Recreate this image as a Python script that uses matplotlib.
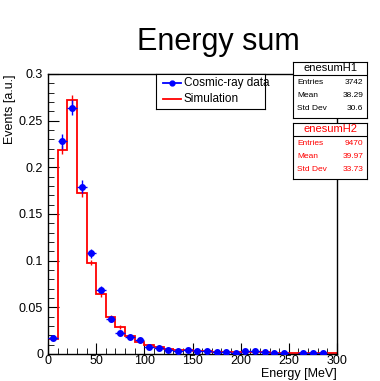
import numpy as np
import matplotlib
matplotlib.use("Agg")
import matplotlib.pyplot as plt
from matplotlib.ticker import MultipleLocator

plt.rcParams["font.family"] = ["Liberation Sans", "DejaVu Sans"]

# bins de 10 MeV, 0..300
edges = np.arange(0, 310, 10)
data = [0.017, 0.228, 0.264, 0.179, 0.108, 0.069, 0.037, 0.022, 0.018, 0.015,
        0.008, 0.006, 0.004, 0.003, 0.004, 0.003, 0.003, 0.002, 0.002, 0.001,
        0.003, 0.003, 0.002, 0.001, 0.001, np.nan, 0.001, 0.001, 0.001, np.nan]
data_err = [0.002, 0.008, 0.008, 0.007, 0.005, 0.004, 0.003, 0.002, 0.002, 0.002,
            0.0015, 0.0013, 0.001, 0.001, 0.001, 0.001, 0.001, 0.0007, 0.0007, 0.0005,
            0.001, 0.001, 0.0007, 0.0005, 0.0005, 0.0, 0.0005, 0.0005, 0.0005, 0.0]
sim = [0.016, 0.219, 0.272, 0.172, 0.098, 0.064, 0.040, 0.029, 0.019, 0.013,
       0.010, 0.007, 0.005, 0.004, 0.004, 0.003, 0.003, 0.002, 0.002, 0.002,
       0.002, 0.002, 0.002, 0.001, 0.001, 0.001, 0.001, 0.001, 0.001, 0.001]
sim_err = [0.001, 0.005, 0.005, 0.004, 0.003, 0.0025, 0.002, 0.0017, 0.0014, 0.0012,
           0.001, 0.0008, 0.0007, 0.0006, 0.0006, 0.0005, 0.0005, 0.0004, 0.0004, 0.0004,
           0.0004, 0.0004, 0.0004, 0.0003, 0.0003, 0.0003, 0.0003, 0.0003, 0.0003, 0.0003]

stats_h1 = [("Entries", "3742"), ("Mean", "38.29"), ("Std Dev", "30.6")]
stats_h2 = [("Entries", "9470"), ("Mean", "39.97"), ("Std Dev", "33.73")]

centers = 0.5 * (edges[:-1] + edges[1:])

fig = plt.figure(figsize=(3.8, 3.81), dpi=100)
ax = fig.add_axes([48 / 380, 1 - 354 / 381, (337 - 48) / 380, (354 - 74) / 381])

ax.stairs(sim, edges, color="red", lw=1.3, zorder=2)
ax.errorbar(centers, sim, yerr=sim_err, fmt="none", ecolor="red", elinewidth=1.0, zorder=2)
ax.errorbar(centers, data, yerr=data_err, xerr=5, fmt="o", color="blue", ms=4,
            elinewidth=1.0, capsize=0, zorder=3)

ax.set_xlim(0, 300)
ax.set_ylim(0, 0.3)
ax.xaxis.set_major_locator(MultipleLocator(50))
ax.xaxis.set_minor_locator(MultipleLocator(10))
ax.yaxis.set_minor_locator(MultipleLocator(0.01))
ax.set_yticks([0, 0.05, 0.1, 0.15, 0.2, 0.25, 0.3])
ax.set_yticklabels(["0", "0.05", "0.1", "0.15", "0.2", "0.25", "0.3"])
ax.tick_params(which="both", direction="in", labelsize=9, top=False, right=False)
ax.tick_params(axis="x", pad=1)
ax.tick_params(which="major", length=8)
ax.tick_params(which="minor", length=4)
for s in ax.spines.values():
    s.set_linewidth(1.0)

ax.set_xlabel("Energy [MeV]", fontsize=9, ha="right", va="center")
ax.xaxis.set_label_coords(1.0, -0.071)
ax.set_ylabel("Events [a.u.]", fontsize=9, loc="top", labelpad=2)

fig.text(218 / 380, 1 - 42 / 381, "Energy sum", fontsize=22, ha="center", va="center")

# legenda (caixa estilo ROOT)
leg = fig.add_axes([156 / 380, 1 - 109 / 381, (265 - 156) / 380, (109 - 74) / 381])
leg.set_xlim(0, 1); leg.set_ylim(0, 1)
leg.set_xticks([]); leg.set_yticks([])
leg.plot([0.06, 0.23], [0.74, 0.74], color="blue", lw=1.3)
leg.plot([0.145], [0.74], "o", color="blue", ms=3.5)
leg.plot([0.06, 0.23], [0.28, 0.28], color="red", lw=1.3)
leg.text(0.255, 0.74, "Cosmic-ray data", fontsize=8.5, va="center")
leg.text(0.255, 0.28, "Simulation", fontsize=8.5, va="center")


def stats_box(y_top, y_bot, name, rows, color):
    b = fig.add_axes([293 / 380, 1 - y_bot / 381, (367 - 293) / 380, (y_bot - y_top) / 381])
    b.set_xlim(0, 1); b.set_ylim(0, 1)
    b.set_xticks([]); b.set_yticks([])
    b.axhline(0.77, color="black", lw=0.8)
    b.text(0.5, 0.885, name, fontsize=8, ha="center", va="center", color=color)
    for i, (k, v) in enumerate(rows):
        y = 0.64 - i * 0.235
        b.text(0.06, y, k, fontsize=6, va="center", color=color)
        b.text(0.95, y, v, fontsize=6, va="center", ha="right", color=color)


stats_box(62, 118, "enesumH1", stats_h1, "black")
stats_box(123, 179, "enesumH2", stats_h2, "red")

fig.savefig("out.png", dpi=100)
